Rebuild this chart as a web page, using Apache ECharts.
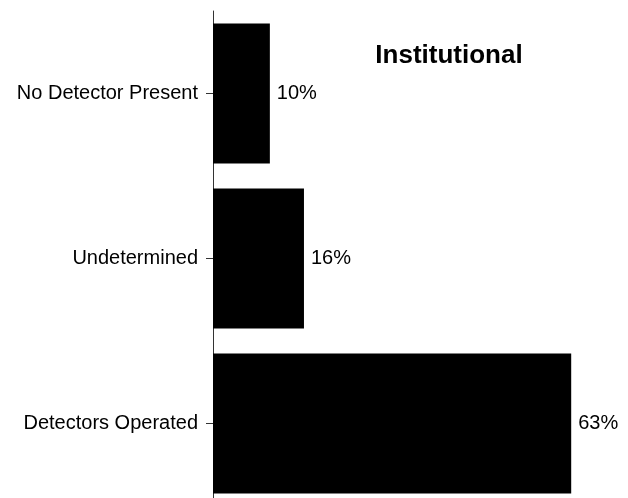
<!DOCTYPE html>
<html>
<head>
<meta charset="utf-8">
<script src="https://cdn.jsdelivr.net/npm/echarts@6/dist/echarts.min.js"></script>
<style>
  html, body { margin: 0; padding: 0; background: #fff; }
  #chart { width: 628px; height: 498px; }
</style>
</head>
<body>
<div id="chart"></div>
<script>
// categories listed bottom to top
var categories = ['Detectors Operated', 'Undetermined', 'No Detector Present'];
var percents = [63, 16, 10];

var chart = echarts.init(document.getElementById('chart'));

var option = {
    animation: false,
    title: {
        text: 'Institutional',
        left: 444,
        top: 38,
        textAlign: 'center',
        textStyle: {
            fontFamily: 'Liberation Sans',
            fontWeight: 'bold',
            fontSize: 26,
            color: '#000'
        }
    },
    grid: {
        left: 213,
        top: 11,
        width: 398,
        height: 495,
        outerBoundsMode: 'none'
    },
    xAxis: {
        type: 'value',
        min: 0,
        max: 70,
        show: false
    },
    yAxis: {
        type: 'category',
        data: categories,
        axisLine: { show: true, lineStyle: { color: '#333', width: 1 } },
        axisTick: { show: true, alignWithLabel: true, length: 7, lineStyle: { color: '#333', width: 1 } },
        axisLabel: {
            margin: 15,
            fontFamily: 'Liberation Sans',
            fontSize: 20,
            color: '#000'
        }
    },
    series: [{
        type: 'bar',
        data: percents,
        barWidth: 140,
        itemStyle: { color: '#000' },
        label: {
            show: true,
            position: 'right',
            distance: 7,
            formatter: '{c}%',
            fontFamily: 'Liberation Sans',
            fontSize: 20,
            color: '#000'
        }
    }]
};

chart.setOption(option);
</script>
</body>
</html>
